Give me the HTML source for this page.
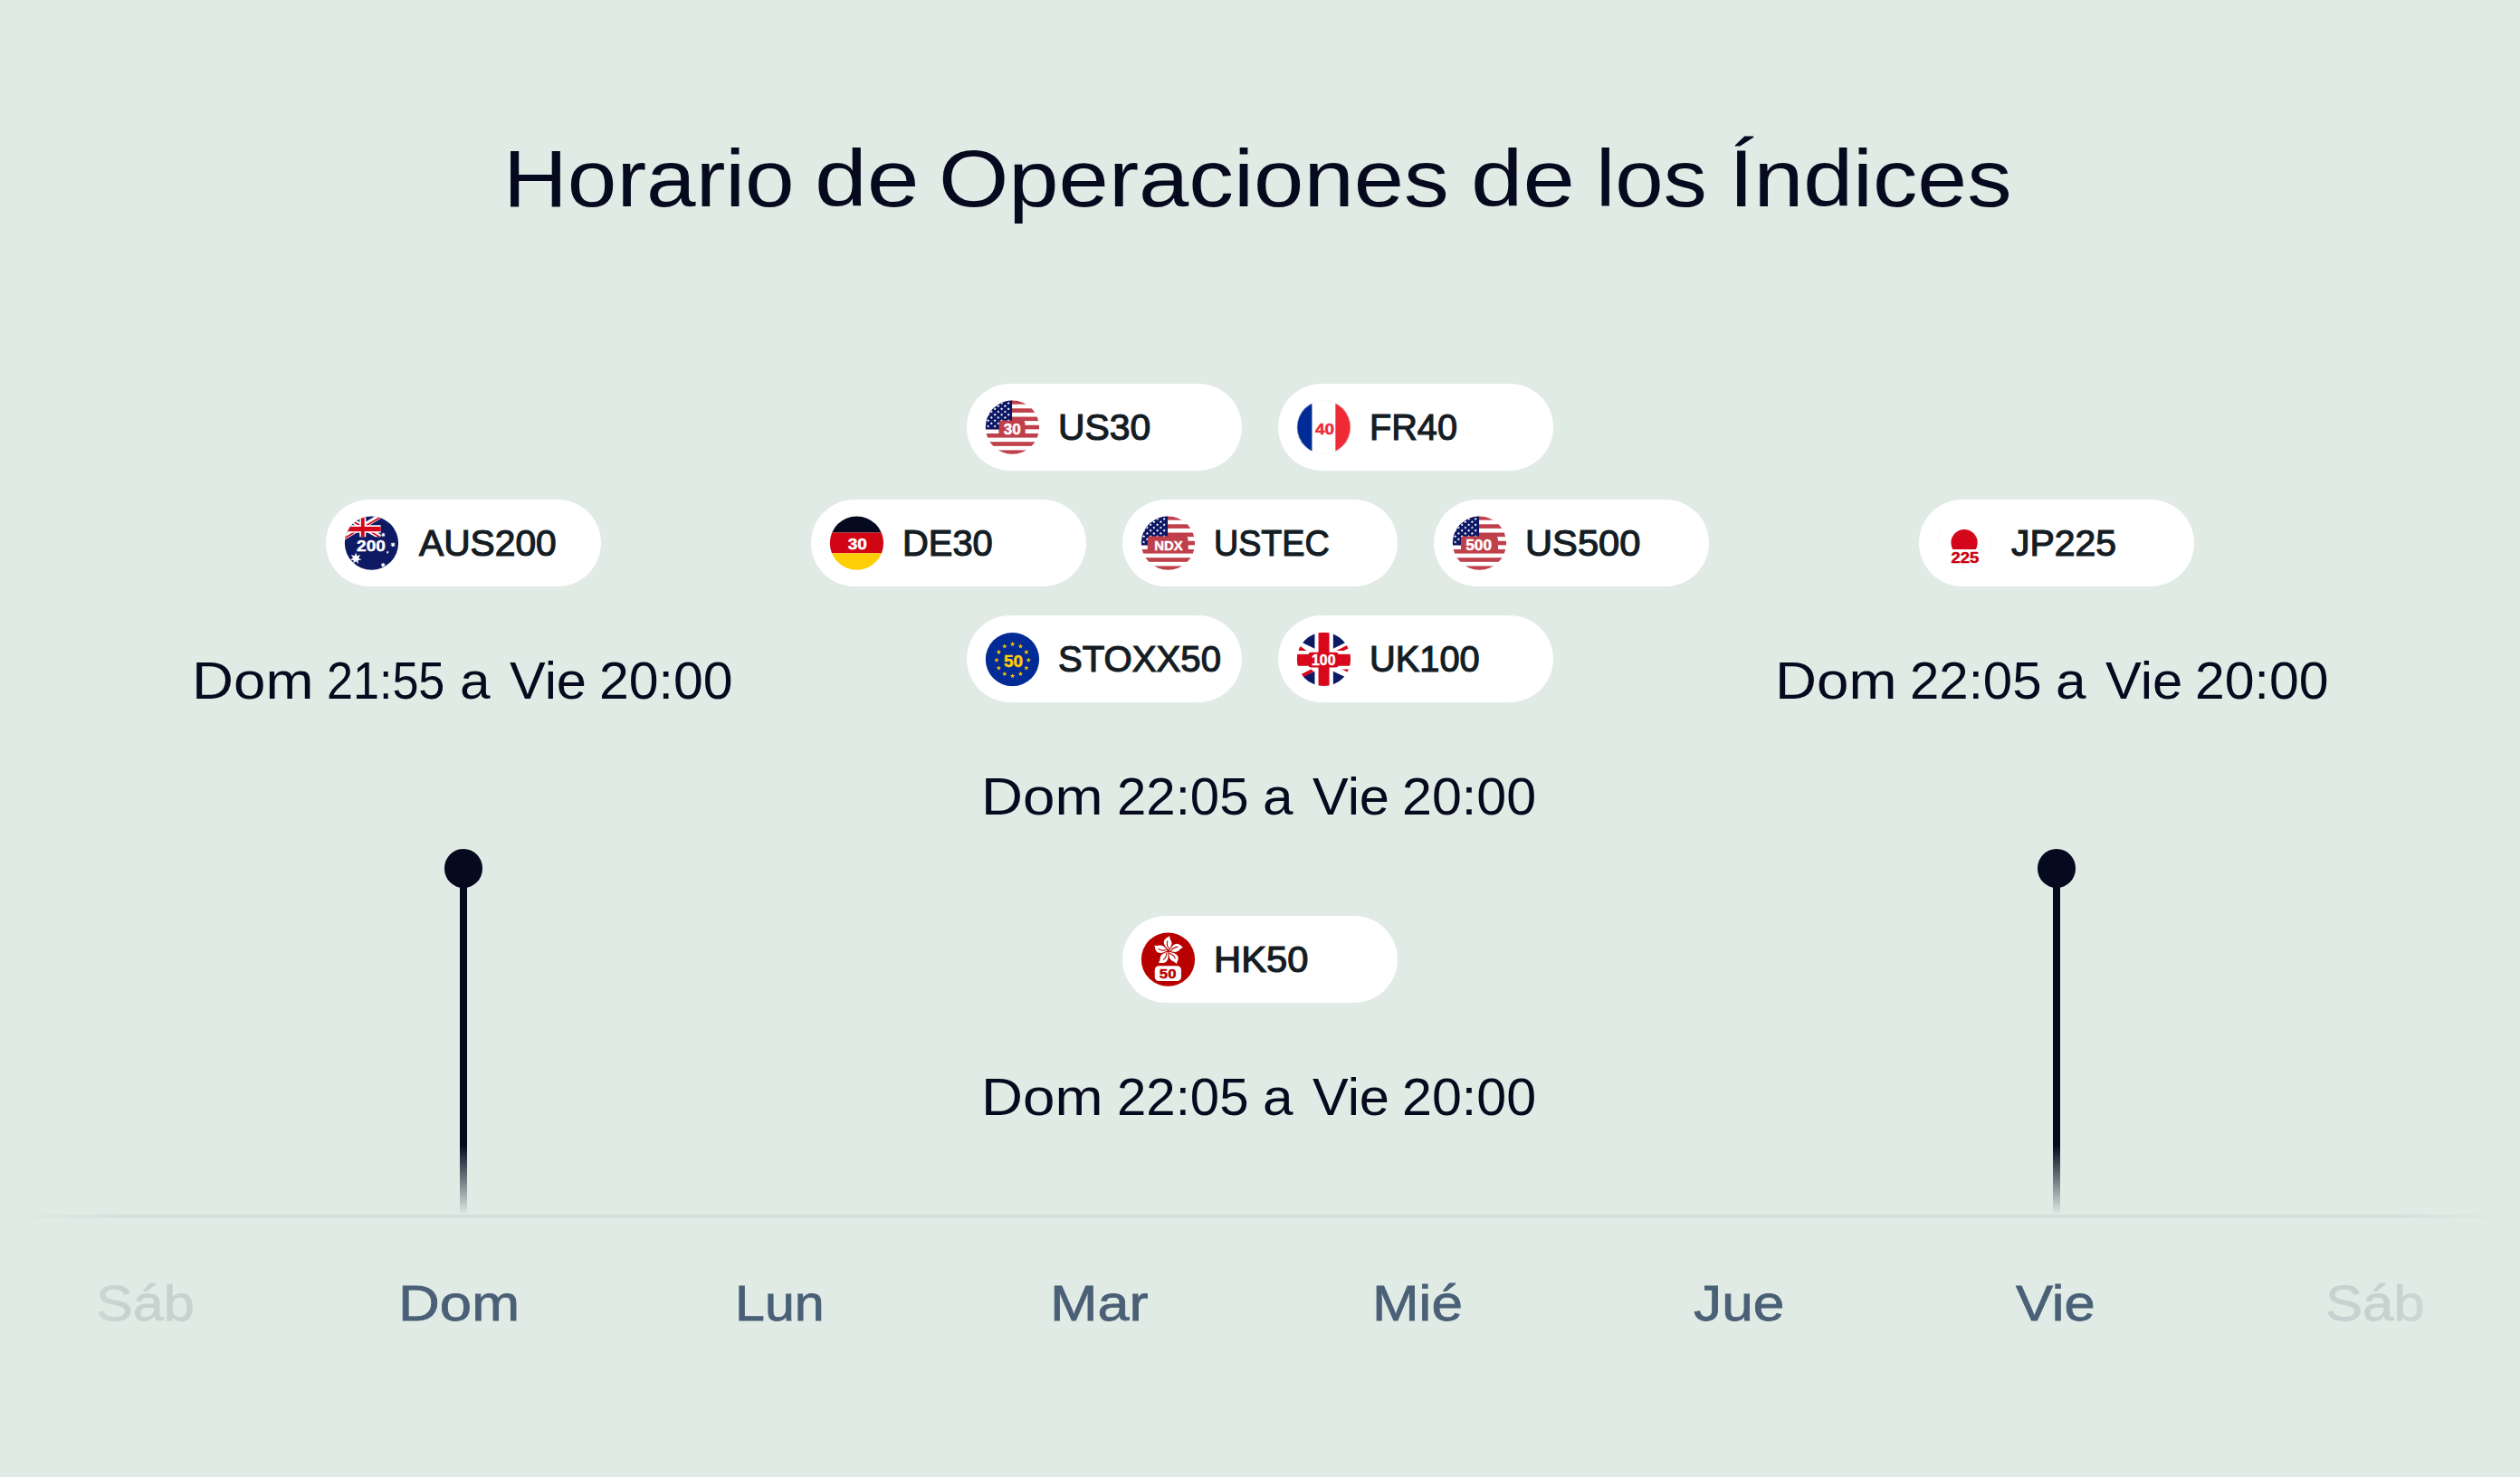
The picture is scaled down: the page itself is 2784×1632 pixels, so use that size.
<!DOCTYPE html>
<html lang="es">
<head>
<meta charset="utf-8">
<title>Horario de Operaciones de los Índices</title>
<style>
*{box-sizing:border-box;margin:0;padding:0}
html,body{width:2784px;height:1632px;overflow:hidden;background:#e1ebe5}
body{position:relative;font-family:"Liberation Sans",sans-serif;color:#050a1e}
h1,p{font-weight:400;font-size:inherit}
.w{position:absolute;white-space:nowrap;line-height:1;transform-origin:0 0;display:block}
.title{font-size:89.0px;color:#050a1e}
.time{font-size:57.0px;color:#050a1e}
.lbl{font-size:40.0px;color:#141c24;-webkit-text-stroke:1.2px #141c24}
.day{font-size:55.2px;color:#4a6076;-webkit-text-stroke:0.8px #4a6076}
.dayoff{font-size:55.2px;color:#c8d1d0;-webkit-text-stroke:0.8px #c8d1d0}
@media (min-resolution:1.5dppx){body{transform:scale(.5);transform-origin:0 0}}
.pill{position:absolute;width:304px;height:96px;border-radius:48px;background:#fff}
.pill .flag{position:absolute;left:20px;top:18px;overflow:visible;width:60px;height:60px;display:block}
.stem{position:absolute;width:8px;top:960px;height:382px;background:linear-gradient(to bottom,#050a1e 0,#050a1e 80%,rgba(5,10,30,0) 100%)}
.dot{position:absolute;width:42.6px;height:42.6px;border-radius:50%;background:#050a1e;top:938.4px}
.fade{position:absolute;top:1390px;height:100px;width:140px;pointer-events:none}
.fade.l{left:0;background:linear-gradient(to right,#e1ebe5 16px,rgba(225,235,229,0) 136px)}
.fade.r{right:0;background:linear-gradient(to left,#e1ebe5 16px,rgba(225,235,229,0) 136px)}
.axis{position:absolute;left:0;top:1342px;width:2784px;height:4px;background:linear-gradient(to right,rgba(214,223,220,0) 16px,#d6dfdc 136px,#d6dfdc 2648px,rgba(214,223,220,0) 2768px)}
</style>
</head>
<body>
<h1 class="title-g"><span class="w title" style="left:555.53px;top:152.50px;transform:scaleX(1.1023)">Horario</span> <span class="w title" style="left:900.24px;top:152.50px;transform:scaleX(1.1685)">de</span> <span class="w title" style="left:1036.78px;top:152.50px;transform:scaleX(1.1170)">Operaciones</span> <span class="w title" style="left:1625.27px;top:152.50px;transform:scaleX(1.1603)">de</span> <span class="w title" style="left:1762.78px;top:152.50px;transform:scaleX(1.0786)">los</span> <span class="w title" style="left:1910.10px;top:152.50px;transform:scaleX(1.1081)">Índices</span></h1>
<p class="time-g"><span class="w time" style="left:211.78px;top:723.50px;transform:scaleX(1.1173)">Dom</span> <span class="w time" style="left:361.17px;top:723.50px;transform:scaleX(0.9137)">21:55</span> <span class="w time" style="left:507.88px;top:723.50px;transform:scaleX(1.0583)">a</span> <span class="w time" style="left:562.50px;top:723.50px;transform:scaleX(1.0443)">Vie</span> <span class="w time" style="left:662.43px;top:723.50px;transform:scaleX(1.0342)">20:00</span></p>
<p class="time-g"><span class="w time" style="left:1084.28px;top:851.50px;transform:scaleX(1.1173)">Dom</span> <span class="w time" style="left:1233.71px;top:851.50px;transform:scaleX(1.0198)">22:05</span> <span class="w time" style="left:1395.38px;top:851.50px;transform:scaleX(1.0583)">a</span> <span class="w time" style="left:1449.50px;top:851.50px;transform:scaleX(1.0443)">Vie</span> <span class="w time" style="left:1549.17px;top:851.50px;transform:scaleX(1.0385)">20:00</span></p>
<p class="time-g"><span class="w time" style="left:1960.53px;top:723.50px;transform:scaleX(1.1173)">Dom</span> <span class="w time" style="left:2109.96px;top:723.50px;transform:scaleX(1.0198)">22:05</span> <span class="w time" style="left:2271.13px;top:723.50px;transform:scaleX(1.0583)">a</span> <span class="w time" style="left:2325.50px;top:723.50px;transform:scaleX(1.0475)">Vie</span> <span class="w time" style="left:2425.43px;top:723.50px;transform:scaleX(1.0342)">20:00</span></p>
<p class="time-g"><span class="w time" style="left:1084.28px;top:1183.50px;transform:scaleX(1.1173)">Dom</span> <span class="w time" style="left:1233.71px;top:1183.50px;transform:scaleX(1.0198)">22:05</span> <span class="w time" style="left:1395.38px;top:1183.50px;transform:scaleX(1.0583)">a</span> <span class="w time" style="left:1449.50px;top:1183.50px;transform:scaleX(1.0443)">Vie</span> <span class="w time" style="left:1549.17px;top:1183.50px;transform:scaleX(1.0385)">20:00</span></p>
<div class="daywrap"><span class="w dayoff" style="left:105.68px;top:1413.40px;transform:scaleX(1.1084)">Sáb</span></div>
<div class="daywrap"><span class="w day" style="left:440.40px;top:1413.40px;transform:scaleX(1.1500)">Dom</span></div>
<div class="daywrap"><span class="w day" style="left:812.11px;top:1413.40px;transform:scaleX(1.0718)">Lun</span></div>
<div class="daywrap"><span class="w day" style="left:1160.43px;top:1413.40px;transform:scaleX(1.1418)">Mar</span></div>
<div class="daywrap"><span class="w day" style="left:1515.91px;top:1413.40px;transform:scaleX(1.1229)">Mié</span></div>
<div class="daywrap"><span class="w day" style="left:1871.40px;top:1413.40px;transform:scaleX(1.1287)">Jue</span></div>
<div class="daywrap"><span class="w day" style="left:2226.90px;top:1413.40px;transform:scaleX(1.1130)">Vie</span></div>
<div class="daywrap"><span class="w dayoff" style="left:2569.27px;top:1413.40px;transform:scaleX(1.1168)">Sáb</span></div>
<div class="pill" style="left:1068px;top:424px"><svg class="flag" viewBox="-0.45 -0.05 60 60" width="60" height="60"><defs><clipPath id="c-us30"><circle cx="30" cy="30" r="29.65"/></clipPath></defs><g clip-path="url(#c-us30)"><rect width="60" height="60" fill="#fff"/><rect x="0" y="0.000" width="60" height="4.615" fill="#bf3f4a"/><rect x="0" y="9.231" width="60" height="4.615" fill="#bf3f4a"/><rect x="0" y="18.462" width="60" height="4.615" fill="#bf3f4a"/><rect x="0" y="27.692" width="60" height="4.615" fill="#bf3f4a"/><rect x="0" y="36.923" width="60" height="4.615" fill="#bf3f4a"/><rect x="0" y="46.154" width="60" height="4.615" fill="#bf3f4a"/><rect x="0" y="55.385" width="60" height="4.615" fill="#bf3f4a"/><rect x="0" y="0" width="29.6" height="32.308" fill="#0b1664"/><path d="M3.20,1.65L3.67,2.75L4.86,2.86L3.96,3.65L4.23,4.82L3.20,4.20L2.17,4.82L2.44,3.65L1.54,2.86L2.73,2.75ZM10.70,1.65L11.17,2.75L12.36,2.86L11.46,3.65L11.73,4.82L10.70,4.20L9.67,4.82L9.94,3.65L9.04,2.86L10.23,2.75ZM18.20,1.65L18.67,2.75L19.86,2.86L18.96,3.65L19.23,4.82L18.20,4.20L17.17,4.82L17.44,3.65L16.54,2.86L17.73,2.75ZM25.70,1.65L26.17,2.75L27.36,2.86L26.46,3.65L26.73,4.82L25.70,4.20L24.67,4.82L24.94,3.65L24.04,2.86L25.23,2.75ZM6.90,4.85L7.37,5.95L8.56,6.06L7.66,6.85L7.93,8.02L6.90,7.40L5.87,8.02L6.14,6.85L5.24,6.06L6.43,5.95ZM14.40,4.85L14.87,5.95L16.06,6.06L15.16,6.85L15.43,8.02L14.40,7.40L13.37,8.02L13.64,6.85L12.74,6.06L13.93,5.95ZM21.90,4.85L22.37,5.95L23.56,6.06L22.66,6.85L22.93,8.02L21.90,7.40L20.87,8.02L21.14,6.85L20.24,6.06L21.43,5.95ZM3.20,8.05L3.67,9.15L4.86,9.26L3.96,10.05L4.23,11.22L3.20,10.60L2.17,11.22L2.44,10.05L1.54,9.26L2.73,9.15ZM10.70,8.05L11.17,9.15L12.36,9.26L11.46,10.05L11.73,11.22L10.70,10.60L9.67,11.22L9.94,10.05L9.04,9.26L10.23,9.15ZM18.20,8.05L18.67,9.15L19.86,9.26L18.96,10.05L19.23,11.22L18.20,10.60L17.17,11.22L17.44,10.05L16.54,9.26L17.73,9.15ZM25.70,8.05L26.17,9.15L27.36,9.26L26.46,10.05L26.73,11.22L25.70,10.60L24.67,11.22L24.94,10.05L24.04,9.26L25.23,9.15ZM6.90,11.25L7.37,12.35L8.56,12.46L7.66,13.25L7.93,14.42L6.90,13.80L5.87,14.42L6.14,13.25L5.24,12.46L6.43,12.35ZM14.40,11.25L14.87,12.35L16.06,12.46L15.16,13.25L15.43,14.42L14.40,13.80L13.37,14.42L13.64,13.25L12.74,12.46L13.93,12.35ZM21.90,11.25L22.37,12.35L23.56,12.46L22.66,13.25L22.93,14.42L21.90,13.80L20.87,14.42L21.14,13.25L20.24,12.46L21.43,12.35ZM3.20,14.45L3.67,15.55L4.86,15.66L3.96,16.45L4.23,17.62L3.20,17.00L2.17,17.62L2.44,16.45L1.54,15.66L2.73,15.55ZM10.70,14.45L11.17,15.55L12.36,15.66L11.46,16.45L11.73,17.62L10.70,17.00L9.67,17.62L9.94,16.45L9.04,15.66L10.23,15.55ZM18.20,14.45L18.67,15.55L19.86,15.66L18.96,16.45L19.23,17.62L18.20,17.00L17.17,17.62L17.44,16.45L16.54,15.66L17.73,15.55ZM25.70,14.45L26.17,15.55L27.36,15.66L26.46,16.45L26.73,17.62L25.70,17.00L24.67,17.62L24.94,16.45L24.04,15.66L25.23,15.55ZM6.90,17.65L7.37,18.75L8.56,18.86L7.66,19.65L7.93,20.82L6.90,20.20L5.87,20.82L6.14,19.65L5.24,18.86L6.43,18.75ZM14.40,17.65L14.87,18.75L16.06,18.86L15.16,19.65L15.43,20.82L14.40,20.20L13.37,20.82L13.64,19.65L12.74,18.86L13.93,18.75ZM21.90,17.65L22.37,18.75L23.56,18.86L22.66,19.65L22.93,20.82L21.90,20.20L20.87,20.82L21.14,19.65L20.24,18.86L21.43,18.75ZM3.20,20.85L3.67,21.95L4.86,22.06L3.96,22.85L4.23,24.02L3.20,23.40L2.17,24.02L2.44,22.85L1.54,22.06L2.73,21.95ZM10.70,20.85L11.17,21.95L12.36,22.06L11.46,22.85L11.73,24.02L10.70,23.40L9.67,24.02L9.94,22.85L9.04,22.06L10.23,21.95ZM18.20,20.85L18.67,21.95L19.86,22.06L18.96,22.85L19.23,24.02L18.20,23.40L17.17,24.02L17.44,22.85L16.54,22.06L17.73,21.95ZM25.70,20.85L26.17,21.95L27.36,22.06L26.46,22.85L26.73,24.02L25.70,23.40L24.67,24.02L24.94,22.85L24.04,22.06L25.23,21.95ZM6.90,24.05L7.37,25.15L8.56,25.26L7.66,26.05L7.93,27.22L6.90,26.60L5.87,27.22L6.14,26.05L5.24,25.26L6.43,25.15ZM14.40,24.05L14.87,25.15L16.06,25.26L15.16,26.05L15.43,27.22L14.40,26.60L13.37,27.22L13.64,26.05L12.74,25.26L13.93,25.15ZM21.90,24.05L22.37,25.15L23.56,25.26L22.66,26.05L22.93,27.22L21.90,26.60L20.87,27.22L21.14,26.05L20.24,25.26L21.43,25.15ZM3.20,27.25L3.67,28.35L4.86,28.46L3.96,29.25L4.23,30.42L3.20,29.80L2.17,30.42L2.44,29.25L1.54,28.46L2.73,28.35ZM10.70,27.25L11.17,28.35L12.36,28.46L11.46,29.25L11.73,30.42L10.70,29.80L9.67,30.42L9.94,29.25L9.04,28.46L10.23,28.35ZM18.20,27.25L18.67,28.35L19.86,28.46L18.96,29.25L19.23,30.42L18.20,29.80L17.17,30.42L17.44,29.25L16.54,28.46L17.73,28.35ZM25.70,27.25L26.17,28.35L27.36,28.46L26.46,29.25L26.73,30.42L25.70,29.80L24.67,30.42L24.94,29.25L24.04,28.46L25.23,28.35Z" fill="#fff"/><path d="M15.2 32.41V25.2a2.8 2.8 0 0 1 2.8-2.8H42.5l1.5 2.5V36.92H15.2Z" fill="#bf3f4a"/><rect x="15.2" y="32.11" width="28.8" height="5.02" fill="#bf3f4a"/><text x="20.20" y="37.60" font-family="Liberation Sans, Arial, sans-serif" font-weight="700" font-size="16.5" fill="#fff" stroke="#fff" stroke-width="0.45" stroke-linejoin="round" textLength="19.00" lengthAdjust="spacingAndGlyphs">30</text></g></svg><span class="w lbl" style="left:101.06px;top:28.00px;transform:scaleX(1.0216)">US30</span></div>
<div class="pill" style="left:1412px;top:424px"><svg class="flag" viewBox="-0.45 -0.05 60 60" width="60" height="60"><defs><clipPath id="c-fr"><circle cx="30" cy="30" r="29.65"/></clipPath></defs><g clip-path="url(#c-fr)"><rect width="60" height="60" fill="#fff"/><rect x="0" y="0" width="17" height="60" fill="#002b96"/><rect x="42.9" y="0" width="17.1" height="60" fill="#ee2a35"/><text x="20.60" y="37.60" font-family="Liberation Sans, Arial, sans-serif" font-weight="700" font-size="17" fill="#ee2a35" stroke="#ee2a35" stroke-width="0.45" stroke-linejoin="round" textLength="21.10" lengthAdjust="spacingAndGlyphs">40</text></g><circle cx="30" cy="30" r="29.4" fill="none" stroke="#eef0f0" stroke-width="0.5"/></svg><span class="w lbl" style="left:100.62px;top:28.00px;transform:scaleX(0.9916)">FR40</span></div>
<div class="pill" style="left:896px;top:552px"><svg class="flag" viewBox="-0.45 -0.05 60 60" width="60" height="60"><defs><clipPath id="c-de"><circle cx="30" cy="30" r="29.65"/></clipPath></defs><g clip-path="url(#c-de)"><rect width="60" height="18.4" fill="#050a1e"/><rect y="18.4" width="60" height="22.9" fill="#d20515"/><rect y="41.3" width="60" height="18.7" fill="#ffce05"/><text x="20.20" y="37.00" font-family="Liberation Sans, Arial, sans-serif" font-weight="700" font-size="17" fill="#fff" stroke="#fff" stroke-width="0.45" stroke-linejoin="round" textLength="21.10" lengthAdjust="spacingAndGlyphs">30</text></g></svg><span class="w lbl" style="left:101.01px;top:28.00px;transform:scaleX(0.9969)">DE30</span></div>
<div class="pill" style="left:1240px;top:552px"><svg class="flag" viewBox="-0.45 -0.05 60 60" width="60" height="60"><defs><clipPath id="c-ustec"><circle cx="30" cy="30" r="29.65"/></clipPath></defs><g clip-path="url(#c-ustec)"><rect width="60" height="60" fill="#fff"/><rect x="0" y="0.000" width="60" height="4.615" fill="#bf3f4a"/><rect x="0" y="9.231" width="60" height="4.615" fill="#bf3f4a"/><rect x="0" y="18.462" width="60" height="4.615" fill="#bf3f4a"/><rect x="0" y="27.692" width="60" height="4.615" fill="#bf3f4a"/><rect x="0" y="36.923" width="60" height="4.615" fill="#bf3f4a"/><rect x="0" y="46.154" width="60" height="4.615" fill="#bf3f4a"/><rect x="0" y="55.385" width="60" height="4.615" fill="#bf3f4a"/><rect x="0" y="0" width="29.6" height="32.308" fill="#0b1664"/><path d="M3.20,1.65L3.67,2.75L4.86,2.86L3.96,3.65L4.23,4.82L3.20,4.20L2.17,4.82L2.44,3.65L1.54,2.86L2.73,2.75ZM10.70,1.65L11.17,2.75L12.36,2.86L11.46,3.65L11.73,4.82L10.70,4.20L9.67,4.82L9.94,3.65L9.04,2.86L10.23,2.75ZM18.20,1.65L18.67,2.75L19.86,2.86L18.96,3.65L19.23,4.82L18.20,4.20L17.17,4.82L17.44,3.65L16.54,2.86L17.73,2.75ZM25.70,1.65L26.17,2.75L27.36,2.86L26.46,3.65L26.73,4.82L25.70,4.20L24.67,4.82L24.94,3.65L24.04,2.86L25.23,2.75ZM6.90,4.85L7.37,5.95L8.56,6.06L7.66,6.85L7.93,8.02L6.90,7.40L5.87,8.02L6.14,6.85L5.24,6.06L6.43,5.95ZM14.40,4.85L14.87,5.95L16.06,6.06L15.16,6.85L15.43,8.02L14.40,7.40L13.37,8.02L13.64,6.85L12.74,6.06L13.93,5.95ZM21.90,4.85L22.37,5.95L23.56,6.06L22.66,6.85L22.93,8.02L21.90,7.40L20.87,8.02L21.14,6.85L20.24,6.06L21.43,5.95ZM3.20,8.05L3.67,9.15L4.86,9.26L3.96,10.05L4.23,11.22L3.20,10.60L2.17,11.22L2.44,10.05L1.54,9.26L2.73,9.15ZM10.70,8.05L11.17,9.15L12.36,9.26L11.46,10.05L11.73,11.22L10.70,10.60L9.67,11.22L9.94,10.05L9.04,9.26L10.23,9.15ZM18.20,8.05L18.67,9.15L19.86,9.26L18.96,10.05L19.23,11.22L18.20,10.60L17.17,11.22L17.44,10.05L16.54,9.26L17.73,9.15ZM25.70,8.05L26.17,9.15L27.36,9.26L26.46,10.05L26.73,11.22L25.70,10.60L24.67,11.22L24.94,10.05L24.04,9.26L25.23,9.15ZM6.90,11.25L7.37,12.35L8.56,12.46L7.66,13.25L7.93,14.42L6.90,13.80L5.87,14.42L6.14,13.25L5.24,12.46L6.43,12.35ZM14.40,11.25L14.87,12.35L16.06,12.46L15.16,13.25L15.43,14.42L14.40,13.80L13.37,14.42L13.64,13.25L12.74,12.46L13.93,12.35ZM21.90,11.25L22.37,12.35L23.56,12.46L22.66,13.25L22.93,14.42L21.90,13.80L20.87,14.42L21.14,13.25L20.24,12.46L21.43,12.35ZM3.20,14.45L3.67,15.55L4.86,15.66L3.96,16.45L4.23,17.62L3.20,17.00L2.17,17.62L2.44,16.45L1.54,15.66L2.73,15.55ZM10.70,14.45L11.17,15.55L12.36,15.66L11.46,16.45L11.73,17.62L10.70,17.00L9.67,17.62L9.94,16.45L9.04,15.66L10.23,15.55ZM18.20,14.45L18.67,15.55L19.86,15.66L18.96,16.45L19.23,17.62L18.20,17.00L17.17,17.62L17.44,16.45L16.54,15.66L17.73,15.55ZM25.70,14.45L26.17,15.55L27.36,15.66L26.46,16.45L26.73,17.62L25.70,17.00L24.67,17.62L24.94,16.45L24.04,15.66L25.23,15.55ZM6.90,17.65L7.37,18.75L8.56,18.86L7.66,19.65L7.93,20.82L6.90,20.20L5.87,20.82L6.14,19.65L5.24,18.86L6.43,18.75ZM14.40,17.65L14.87,18.75L16.06,18.86L15.16,19.65L15.43,20.82L14.40,20.20L13.37,20.82L13.64,19.65L12.74,18.86L13.93,18.75ZM21.90,17.65L22.37,18.75L23.56,18.86L22.66,19.65L22.93,20.82L21.90,20.20L20.87,20.82L21.14,19.65L20.24,18.86L21.43,18.75ZM3.20,20.85L3.67,21.95L4.86,22.06L3.96,22.85L4.23,24.02L3.20,23.40L2.17,24.02L2.44,22.85L1.54,22.06L2.73,21.95ZM10.70,20.85L11.17,21.95L12.36,22.06L11.46,22.85L11.73,24.02L10.70,23.40L9.67,24.02L9.94,22.85L9.04,22.06L10.23,21.95ZM18.20,20.85L18.67,21.95L19.86,22.06L18.96,22.85L19.23,24.02L18.20,23.40L17.17,24.02L17.44,22.85L16.54,22.06L17.73,21.95ZM25.70,20.85L26.17,21.95L27.36,22.06L26.46,22.85L26.73,24.02L25.70,23.40L24.67,24.02L24.94,22.85L24.04,22.06L25.23,21.95ZM6.90,24.05L7.37,25.15L8.56,25.26L7.66,26.05L7.93,27.22L6.90,26.60L5.87,27.22L6.14,26.05L5.24,25.26L6.43,25.15ZM14.40,24.05L14.87,25.15L16.06,25.26L15.16,26.05L15.43,27.22L14.40,26.60L13.37,27.22L13.64,26.05L12.74,25.26L13.93,25.15ZM21.90,24.05L22.37,25.15L23.56,25.26L22.66,26.05L22.93,27.22L21.90,26.60L20.87,27.22L21.14,26.05L20.24,25.26L21.43,25.15ZM3.20,27.25L3.67,28.35L4.86,28.46L3.96,29.25L4.23,30.42L3.20,29.80L2.17,30.42L2.44,29.25L1.54,28.46L2.73,28.35ZM10.70,27.25L11.17,28.35L12.36,28.46L11.46,29.25L11.73,30.42L10.70,29.80L9.67,30.42L9.94,29.25L9.04,28.46L10.23,28.35ZM18.20,27.25L18.67,28.35L19.86,28.46L18.96,29.25L19.23,30.42L18.20,29.80L17.17,30.42L17.44,29.25L16.54,28.46L17.73,28.35ZM25.70,27.25L26.17,28.35L27.36,28.46L26.46,29.25L26.73,30.42L25.70,29.80L24.67,30.42L24.94,29.25L24.04,28.46L25.23,28.35Z" fill="#fff"/><path d="M7.4 32.41V25.2a2.8 2.8 0 0 1 2.8-2.8H50.5l1.5 2.5V36.92H7.4Z" fill="#bf3f4a"/><rect x="7.4" y="32.11" width="44.6" height="5.02" fill="#bf3f4a"/><text x="14.80" y="37.60" font-family="Liberation Sans, Arial, sans-serif" font-weight="700" font-size="15.5" fill="#fff" stroke="#fff" stroke-width="0.45" stroke-linejoin="round" textLength="31.40" lengthAdjust="spacingAndGlyphs">NDX</text></g></svg><span class="w lbl" style="left:101.12px;top:28.00px;transform:scaleX(0.9421)">USTEC</span></div>
<div class="pill" style="left:1584px;top:552px"><svg class="flag" viewBox="-0.45 -0.05 60 60" width="60" height="60"><defs><clipPath id="c-us500"><circle cx="30" cy="30" r="29.65"/></clipPath></defs><g clip-path="url(#c-us500)"><rect width="60" height="60" fill="#fff"/><rect x="0" y="0.000" width="60" height="4.615" fill="#bf3f4a"/><rect x="0" y="9.231" width="60" height="4.615" fill="#bf3f4a"/><rect x="0" y="18.462" width="60" height="4.615" fill="#bf3f4a"/><rect x="0" y="27.692" width="60" height="4.615" fill="#bf3f4a"/><rect x="0" y="36.923" width="60" height="4.615" fill="#bf3f4a"/><rect x="0" y="46.154" width="60" height="4.615" fill="#bf3f4a"/><rect x="0" y="55.385" width="60" height="4.615" fill="#bf3f4a"/><rect x="0" y="0" width="29.6" height="32.308" fill="#0b1664"/><path d="M3.20,1.65L3.67,2.75L4.86,2.86L3.96,3.65L4.23,4.82L3.20,4.20L2.17,4.82L2.44,3.65L1.54,2.86L2.73,2.75ZM10.70,1.65L11.17,2.75L12.36,2.86L11.46,3.65L11.73,4.82L10.70,4.20L9.67,4.82L9.94,3.65L9.04,2.86L10.23,2.75ZM18.20,1.65L18.67,2.75L19.86,2.86L18.96,3.65L19.23,4.82L18.20,4.20L17.17,4.82L17.44,3.65L16.54,2.86L17.73,2.75ZM25.70,1.65L26.17,2.75L27.36,2.86L26.46,3.65L26.73,4.82L25.70,4.20L24.67,4.82L24.94,3.65L24.04,2.86L25.23,2.75ZM6.90,4.85L7.37,5.95L8.56,6.06L7.66,6.85L7.93,8.02L6.90,7.40L5.87,8.02L6.14,6.85L5.24,6.06L6.43,5.95ZM14.40,4.85L14.87,5.95L16.06,6.06L15.16,6.85L15.43,8.02L14.40,7.40L13.37,8.02L13.64,6.85L12.74,6.06L13.93,5.95ZM21.90,4.85L22.37,5.95L23.56,6.06L22.66,6.85L22.93,8.02L21.90,7.40L20.87,8.02L21.14,6.85L20.24,6.06L21.43,5.95ZM3.20,8.05L3.67,9.15L4.86,9.26L3.96,10.05L4.23,11.22L3.20,10.60L2.17,11.22L2.44,10.05L1.54,9.26L2.73,9.15ZM10.70,8.05L11.17,9.15L12.36,9.26L11.46,10.05L11.73,11.22L10.70,10.60L9.67,11.22L9.94,10.05L9.04,9.26L10.23,9.15ZM18.20,8.05L18.67,9.15L19.86,9.26L18.96,10.05L19.23,11.22L18.20,10.60L17.17,11.22L17.44,10.05L16.54,9.26L17.73,9.15ZM25.70,8.05L26.17,9.15L27.36,9.26L26.46,10.05L26.73,11.22L25.70,10.60L24.67,11.22L24.94,10.05L24.04,9.26L25.23,9.15ZM6.90,11.25L7.37,12.35L8.56,12.46L7.66,13.25L7.93,14.42L6.90,13.80L5.87,14.42L6.14,13.25L5.24,12.46L6.43,12.35ZM14.40,11.25L14.87,12.35L16.06,12.46L15.16,13.25L15.43,14.42L14.40,13.80L13.37,14.42L13.64,13.25L12.74,12.46L13.93,12.35ZM21.90,11.25L22.37,12.35L23.56,12.46L22.66,13.25L22.93,14.42L21.90,13.80L20.87,14.42L21.14,13.25L20.24,12.46L21.43,12.35ZM3.20,14.45L3.67,15.55L4.86,15.66L3.96,16.45L4.23,17.62L3.20,17.00L2.17,17.62L2.44,16.45L1.54,15.66L2.73,15.55ZM10.70,14.45L11.17,15.55L12.36,15.66L11.46,16.45L11.73,17.62L10.70,17.00L9.67,17.62L9.94,16.45L9.04,15.66L10.23,15.55ZM18.20,14.45L18.67,15.55L19.86,15.66L18.96,16.45L19.23,17.62L18.20,17.00L17.17,17.62L17.44,16.45L16.54,15.66L17.73,15.55ZM25.70,14.45L26.17,15.55L27.36,15.66L26.46,16.45L26.73,17.62L25.70,17.00L24.67,17.62L24.94,16.45L24.04,15.66L25.23,15.55ZM6.90,17.65L7.37,18.75L8.56,18.86L7.66,19.65L7.93,20.82L6.90,20.20L5.87,20.82L6.14,19.65L5.24,18.86L6.43,18.75ZM14.40,17.65L14.87,18.75L16.06,18.86L15.16,19.65L15.43,20.82L14.40,20.20L13.37,20.82L13.64,19.65L12.74,18.86L13.93,18.75ZM21.90,17.65L22.37,18.75L23.56,18.86L22.66,19.65L22.93,20.82L21.90,20.20L20.87,20.82L21.14,19.65L20.24,18.86L21.43,18.75ZM3.20,20.85L3.67,21.95L4.86,22.06L3.96,22.85L4.23,24.02L3.20,23.40L2.17,24.02L2.44,22.85L1.54,22.06L2.73,21.95ZM10.70,20.85L11.17,21.95L12.36,22.06L11.46,22.85L11.73,24.02L10.70,23.40L9.67,24.02L9.94,22.85L9.04,22.06L10.23,21.95ZM18.20,20.85L18.67,21.95L19.86,22.06L18.96,22.85L19.23,24.02L18.20,23.40L17.17,24.02L17.44,22.85L16.54,22.06L17.73,21.95ZM25.70,20.85L26.17,21.95L27.36,22.06L26.46,22.85L26.73,24.02L25.70,23.40L24.67,24.02L24.94,22.85L24.04,22.06L25.23,21.95ZM6.90,24.05L7.37,25.15L8.56,25.26L7.66,26.05L7.93,27.22L6.90,26.60L5.87,27.22L6.14,26.05L5.24,25.26L6.43,25.15ZM14.40,24.05L14.87,25.15L16.06,25.26L15.16,26.05L15.43,27.22L14.40,26.60L13.37,27.22L13.64,26.05L12.74,25.26L13.93,25.15ZM21.90,24.05L22.37,25.15L23.56,25.26L22.66,26.05L22.93,27.22L21.90,26.60L20.87,27.22L21.14,26.05L20.24,25.26L21.43,25.15ZM3.20,27.25L3.67,28.35L4.86,28.46L3.96,29.25L4.23,30.42L3.20,29.80L2.17,30.42L2.44,29.25L1.54,28.46L2.73,28.35ZM10.70,27.25L11.17,28.35L12.36,28.46L11.46,29.25L11.73,30.42L10.70,29.80L9.67,30.42L9.94,29.25L9.04,28.46L10.23,28.35ZM18.20,27.25L18.67,28.35L19.86,28.46L18.96,29.25L19.23,30.42L18.20,29.80L17.17,30.42L17.44,29.25L16.54,28.46L17.73,28.35ZM25.70,27.25L26.17,28.35L27.36,28.46L26.46,29.25L26.73,30.42L25.70,29.80L24.67,30.42L24.94,29.25L24.04,28.46L25.23,28.35Z" fill="#fff"/><path d="M9.6 32.41V25.2a2.8 2.8 0 0 1 2.8-2.8H48.9l1.5 2.5V36.92H9.6Z" fill="#bf3f4a"/><rect x="9.6" y="32.11" width="40.8" height="5.02" fill="#bf3f4a"/><text x="14.80" y="37.60" font-family="Liberation Sans, Arial, sans-serif" font-weight="700" font-size="16.5" fill="#fff" stroke="#fff" stroke-width="0.45" stroke-linejoin="round" textLength="28.80" lengthAdjust="spacingAndGlyphs">500</text></g></svg><span class="w lbl" style="left:100.82px;top:28.00px;transform:scaleX(1.0417)">US500</span></div>
<div class="pill" style="left:1068px;top:680px"><svg class="flag" viewBox="-0.45 -0.55 60 60" width="60" height="60"><defs><clipPath id="c-eu"><circle cx="30" cy="30" r="29.65"/></clipPath></defs><g clip-path="url(#c-eu)"><rect width="60" height="60" fill="#032b95"/><path d="M30.20,10.30L30.88,12.27L32.96,12.30L31.29,13.56L31.90,15.55L30.20,14.35L28.50,15.55L29.11,13.56L27.44,12.30L29.52,12.27ZM39.00,12.66L39.68,14.63L41.76,14.66L40.09,15.91L40.70,17.90L39.00,16.71L37.30,17.90L37.91,15.91L36.24,14.66L38.32,14.63ZM45.44,19.10L46.12,21.07L48.20,21.10L46.54,22.36L47.15,24.35L45.44,23.15L43.74,24.35L44.35,22.36L42.68,21.10L44.77,21.07ZM47.80,27.90L48.48,29.87L50.56,29.90L48.89,31.16L49.50,33.15L47.80,31.95L46.10,33.15L46.71,31.16L45.04,29.90L47.12,29.87ZM45.44,36.70L46.12,38.67L48.20,38.70L46.54,39.96L47.15,41.95L45.44,40.75L43.74,41.95L44.35,39.96L42.68,38.70L44.77,38.67ZM39.00,43.14L39.68,45.11L41.76,45.15L40.09,46.40L40.70,48.39L39.00,47.19L37.30,48.39L37.91,46.40L36.24,45.15L38.32,45.11ZM30.20,45.50L30.88,47.47L32.96,47.50L31.29,48.76L31.90,50.75L30.20,49.55L28.50,50.75L29.11,48.76L27.44,47.50L29.52,47.47ZM21.40,43.14L22.08,45.11L24.16,45.15L22.49,46.40L23.10,48.39L21.40,47.19L19.70,48.39L20.31,46.40L18.64,45.15L20.72,45.11ZM14.96,36.70L15.63,38.67L17.72,38.70L16.05,39.96L16.66,41.95L14.96,40.75L13.25,41.95L13.86,39.96L12.20,38.70L14.28,38.67ZM12.60,27.90L13.28,29.87L15.36,29.90L13.69,31.16L14.30,33.15L12.60,31.95L10.90,33.15L11.51,31.16L9.84,29.90L11.92,29.87ZM14.96,19.10L15.63,21.07L17.72,21.10L16.05,22.36L16.66,24.35L14.96,23.15L13.25,24.35L13.86,22.36L12.20,21.10L14.28,21.07ZM21.40,12.66L22.08,14.63L24.16,14.66L22.49,15.91L23.10,17.90L21.40,16.71L19.70,17.90L20.31,15.91L18.64,14.66L20.72,14.63Z" fill="#ffcc00"/><text x="20.60" y="38.00" font-family="Liberation Sans, Arial, sans-serif" font-weight="700" font-size="17.5" fill="#ffcc00" stroke="#ffcc00" stroke-width="0.45" stroke-linejoin="round" textLength="21.10" lengthAdjust="spacingAndGlyphs">50</text></g></svg><span class="w lbl" style="left:100.70px;top:28.00px;transform:scaleX(1.0034)">STOXX50</span></div>
<div class="pill" style="left:1412px;top:680px"><svg class="flag" viewBox="-0.45 -0.45 60 60" width="60" height="60"><defs><clipPath id="c-uk"><circle cx="30" cy="30" r="29.65"/></clipPath></defs><g clip-path="url(#c-uk)"><rect width="60" height="60" fill="#fff"/><path d="M20 -2V18.2L2 9.5V-2Z M40.4 -2V18.2L58 9.5V-2Z M20 62V43.2L2 51.5V62Z M40.4 62V43.2L58 51.5V62Z" fill="#0c1a66"/><path d="M-2 17.5L4 15.5L11 20.6H3Z M44 20.6L56 14.2L58 17.6L52 20.6Z M16 41L4 47L6 50.5L19 43.6Z M50 41H58L57 44.6Z" fill="#d8071b"/><rect x="24.1" y="0" width="12" height="60" fill="#d8071b"/><rect x="0" y="24.4" width="60" height="12.9" fill="#d8071b"/><rect x="13" y="22.4" width="33.2" height="16.6" rx="3" fill="#d8071b"/><text x="16.60" y="36.50" font-family="Liberation Sans, Arial, sans-serif" font-weight="700" font-size="16" fill="#fff" stroke="#fff" stroke-width="0.45" stroke-linejoin="round" textLength="26.40" lengthAdjust="spacingAndGlyphs">100</text></g></svg><span class="w lbl" style="left:100.61px;top:28.00px;transform:scaleX(0.9950)">UK100</span></div>
<div class="pill" style="left:360px;top:552px"><svg class="flag" viewBox="-0.45 -0.05 60 60" width="60" height="60"><defs><clipPath id="c-au"><circle cx="30" cy="30" r="29.65"/></clipPath></defs><g clip-path="url(#c-au)"><rect width="60" height="60" fill="#0f1a64"/><g><clipPath id="c-auj"><path d="M0 0H40.2V23.2H15.5L0 31V0Z"/></clipPath><g clip-path="url(#c-auj)"><path d="M-6 27L40 0 M-4 -2L46 27" stroke="#fff" stroke-width="5.4" fill="none"/><path d="M-6 28.2L42 0.2 M-2 -0.8L46 27.4" stroke="#d4061a" stroke-width="1.7" fill="none"/><rect x="16.8" y="0" width="7" height="24" fill="#fff"/><rect x="0" y="10.2" width="41" height="8.4" fill="#fff"/><rect x="18.4" y="0" width="3.8" height="24" fill="#d4061a"/><rect x="0" y="11.9" width="41" height="5.2" fill="#d4061a"/></g></g><path d="M12.60,40.40L13.90,44.30L17.76,42.88L15.52,46.33L19.03,48.47L14.95,48.87L15.46,52.95L12.60,50.00L9.74,52.95L10.25,48.87L6.17,48.47L9.68,46.33L7.44,42.88L11.30,44.30ZM42.90,18.20L43.46,19.73L45.01,19.22L44.17,20.61L45.53,21.50L43.92,21.71L44.07,23.33L42.90,22.20L41.73,23.33L41.88,21.71L40.27,21.50L41.63,20.61L40.79,19.22L42.34,19.73ZM53.70,28.60L54.35,30.45L56.20,29.80L55.16,31.47L56.82,32.51L54.87,32.74L55.09,34.68L53.70,33.30L52.31,34.68L52.53,32.74L50.58,32.51L52.24,31.47L51.20,29.80L53.05,30.45ZM47.70,38.40L48.17,39.55L49.41,39.64L48.46,40.45L48.76,41.66L47.70,41.00L46.64,41.66L46.94,40.45L45.99,39.64L47.23,39.55ZM42.80,51.30L43.41,53.04L45.15,52.43L44.16,53.99L45.72,54.97L43.89,55.17L44.10,57.00L42.80,55.70L41.50,57.00L41.71,55.17L39.88,54.97L41.44,53.99L40.45,52.43L42.19,53.04Z" fill="#fff"/><text x="13.60" y="38.80" font-family="Liberation Sans, Arial, sans-serif" font-weight="700" font-size="17" fill="#fff" stroke="#fff" stroke-width="0.45" stroke-linejoin="round" textLength="31.80" lengthAdjust="spacingAndGlyphs">200</text></g></svg><span class="w lbl" style="left:102.52px;top:28.00px;transform:scaleX(1.0181)">AUS200</span></div>
<div class="pill" style="left:2120px;top:552px"><svg class="flag" viewBox="-0.45 -0.05 60 60" width="60" height="60"><defs><clipPath id="c-jp"><circle cx="30" cy="30" r="29.65"/></clipPath></defs><g clip-path="url(#c-jp)"><rect width="60" height="60" fill="#fff"/><clipPath id="c-jpd"><rect x="0" y="0" width="60" height="37.0"/></clipPath><circle cx="29.6" cy="29.6" r="14.6" fill="#d4061a" clip-path="url(#c-jpd)"/><text x="15.00" y="52.20" font-family="Liberation Sans, Arial, sans-serif" font-weight="700" font-size="17" fill="#c8000f" stroke="#c8000f" stroke-width="0.45" stroke-linejoin="round" textLength="30.90" lengthAdjust="spacingAndGlyphs">225</text></g><circle cx="30" cy="30" r="29.4" fill="none" stroke="#f1f3f3" stroke-width="0.5"/></svg><span class="w lbl" style="left:101.50px;top:28.00px;transform:scaleX(1.0239)">JP225</span></div>
<div class="pill" style="left:1240px;top:1012px"><svg class="flag" viewBox="-0.45 -0.05 60 60" width="60" height="60"><defs><clipPath id="c-hk"><circle cx="30" cy="30" r="29.65"/></clipPath></defs><g clip-path="url(#c-hk)"><rect width="60" height="60" fill="#b90000"/><path transform="translate(30.4 20.8) rotate(-2)" d="M0 -1.2C-2.2 -4.2 -5.4 -6.6 -4.6 -11.2C-3.6 -14.2 -0.6 -15.4 2.2 -16.6C1.2 -14.8 2.6 -12.8 3.6 -10.6C4.8 -7.4 2.6 -4.2 0 -1.2Z" fill="#fff"/><path transform="translate(30.4 20.8) rotate(70)" d="M0 -1.2C-2.2 -4.2 -5.4 -6.6 -4.6 -11.2C-3.6 -14.2 -0.6 -15.4 2.2 -16.6C1.2 -14.8 2.6 -12.8 3.6 -10.6C4.8 -7.4 2.6 -4.2 0 -1.2Z" fill="#fff"/><path transform="translate(30.4 20.8) rotate(142)" d="M0 -1.2C-2.2 -4.2 -5.4 -6.6 -4.6 -11.2C-3.6 -14.2 -0.6 -15.4 2.2 -16.6C1.2 -14.8 2.6 -12.8 3.6 -10.6C4.8 -7.4 2.6 -4.2 0 -1.2Z" fill="#fff"/><path transform="translate(30.4 20.8) rotate(214)" d="M0 -1.2C-2.2 -4.2 -5.4 -6.6 -4.6 -11.2C-3.6 -14.2 -0.6 -15.4 2.2 -16.6C1.2 -14.8 2.6 -12.8 3.6 -10.6C4.8 -7.4 2.6 -4.2 0 -1.2Z" fill="#fff"/><path transform="translate(30.4 20.8) rotate(286)" d="M0 -1.2C-2.2 -4.2 -5.4 -6.6 -4.6 -11.2C-3.6 -14.2 -0.6 -15.4 2.2 -16.6C1.2 -14.8 2.6 -12.8 3.6 -10.6C4.8 -7.4 2.6 -4.2 0 -1.2Z" fill="#fff"/><path transform="translate(30.4 20.8) rotate(-2)" d="M0.6 -2.5C-1.2 -5.5 -2.2 -8.2 -0.6 -11.4" stroke="#b90000" stroke-width="1.1" fill="none"/><path transform="translate(30.4 20.8) rotate(70)" d="M0.6 -2.5C-1.2 -5.5 -2.2 -8.2 -0.6 -11.4" stroke="#b90000" stroke-width="1.1" fill="none"/><path transform="translate(30.4 20.8) rotate(142)" d="M0.6 -2.5C-1.2 -5.5 -2.2 -8.2 -0.6 -11.4" stroke="#b90000" stroke-width="1.1" fill="none"/><path transform="translate(30.4 20.8) rotate(214)" d="M0.6 -2.5C-1.2 -5.5 -2.2 -8.2 -0.6 -11.4" stroke="#b90000" stroke-width="1.1" fill="none"/><path transform="translate(30.4 20.8) rotate(286)" d="M0.6 -2.5C-1.2 -5.5 -2.2 -8.2 -0.6 -11.4" stroke="#b90000" stroke-width="1.1" fill="none"/><rect x="15.3" y="37.2" width="29.2" height="16.8" rx="4.5" fill="#fff"/><text x="20.40" y="51.00" font-family="Liberation Sans, Arial, sans-serif" font-weight="700" font-size="15" fill="#b90000" stroke="#b90000" stroke-width="0.45" stroke-linejoin="round" textLength="18.60" lengthAdjust="spacingAndGlyphs">50</text></g></svg><span class="w lbl" style="left:100.51px;top:28.00px;transform:scaleX(1.0433)">HK50</span></div>
<div class="stem" style="left:508px"></div><div class="dot" style="left:490.7px"></div>
<div class="stem" style="left:2268px"></div><div class="dot" style="left:2250.7px"></div>
<div class="axis"></div>
<div class="fade l"></div><div class="fade r"></div>
</body>
</html>
